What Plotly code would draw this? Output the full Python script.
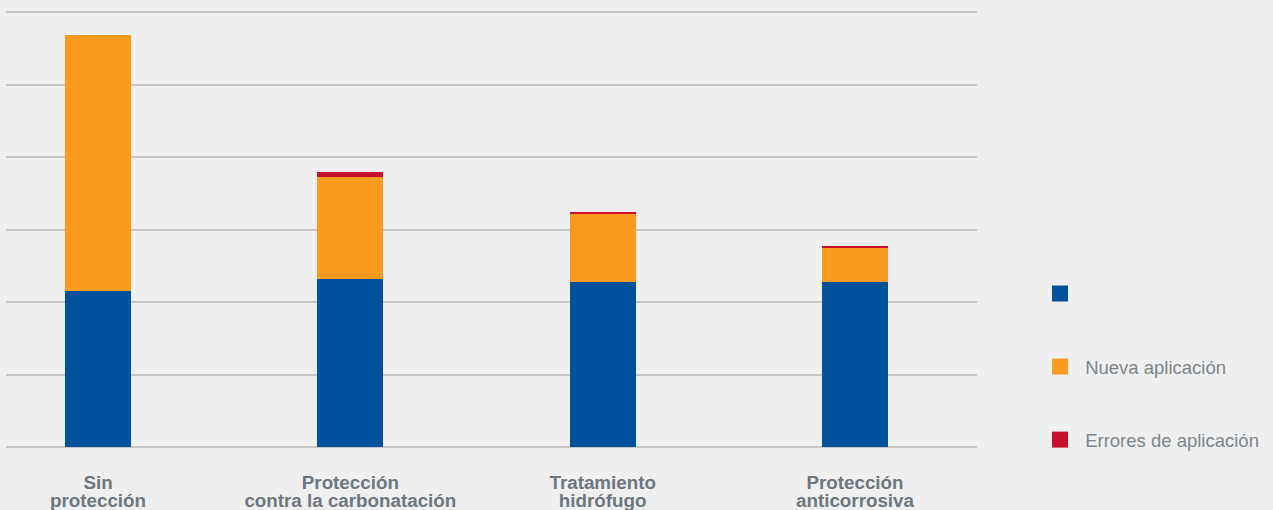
import plotly.graph_objects as go

categories_line1 = ["Sin", "Protección", "Tratamiento", "Protección"]
categories_line2 = ["protección", "contra la carbonatación", "hidrófugo", "anticorrosiva"]
series_names = ["", "Nueva aplicación", "Errores de aplicación"]
base_values = [21.5, 23.2, 22.8, 22.8]
nueva_values = [35.3, 14.1, 9.4, 4.7]
errores_values = [0.0, 0.7, 0.3, 0.3]
y_ticks = [0, 10, 20, 30, 40, 50, 60]

colors = ["#00519c", "#f99b1e", "#c8102e"]
x_idx = list(range(len(categories_line1)))

fig = go.Figure()
for name, vals, col in zip(series_names, [base_values, nueva_values, errores_values], colors):
    fig.add_trace(go.Bar(x=x_idx, y=vals, name=name, marker=dict(color=col, line=dict(width=0)),
                         width=0.2616, showlegend=False, xaxis="x", yaxis="y"))
# invisible helper so that the second-line category axis is rendered
fig.add_trace(go.Scatter(x=x_idx, y=[None] * len(x_idx), xaxis="x2", yaxis="y",
                         mode="markers", showlegend=False, hoverinfo="skip"))
for i, (name, col) in enumerate(zip(series_names, colors)):
    fig.add_trace(go.Scatter(x=[None], y=[None], mode="markers", name=("\u00a0" + name) if name else "",
                             marker=dict(symbol="square", size=16, color=col, line=dict(width=0)),
                             legendgroup=f"g{i}", showlegend=True))

xr = [-0.3646, 3.4835]
tickfont = dict(family="Liberation Sans, Arial, sans-serif", size=18.8, color="#6c7780")
fig.update_layout(
    width=1273, height=510,
    margin=dict(l=6, r=296, t=5, b=63, autoexpand=False),
    paper_bgcolor="#efefef", plot_bgcolor="#efefef",
    barmode="stack",
    bargap=0,
    xaxis=dict(range=xr, tickvals=x_idx, ticktext=[f"<b>{t}</b>" for t in categories_line1],
               tickfont=tickfont, showgrid=False, zeroline=False, showline=False, ticks="",
               ticklabelstandoff=22, automargin=False),
    xaxis2=dict(range=xr, tickvals=x_idx, ticktext=[f"<b>{t}</b>" for t in categories_line2],
                tickfont=tickfont, showgrid=False, zeroline=False, showline=False, ticks="",
                overlaying="x", anchor="y", side="bottom", ticklabelstandoff=40, automargin=False),
    yaxis=dict(range=[0, 61], tickvals=y_ticks, showticklabels=False, showgrid=True,
               gridcolor="#c6c6c6", gridwidth=1.6, zeroline=True, zerolinecolor="#c6c6c6",
               zerolinewidth=1.6, ticks="", automargin=False),
    legend=dict(xref="container", yref="container", x=1040/1273, y=1 - 275/510,
                xanchor="left", yanchor="top", traceorder="grouped", tracegroupgap=46,
                itemsizing="trace", bgcolor="rgba(0,0,0,0)",
                font=dict(family="Liberation Sans, Arial, sans-serif", size=18.5, color="#7d878e")),
    showlegend=True,
)
fig.write_html("out.html")
